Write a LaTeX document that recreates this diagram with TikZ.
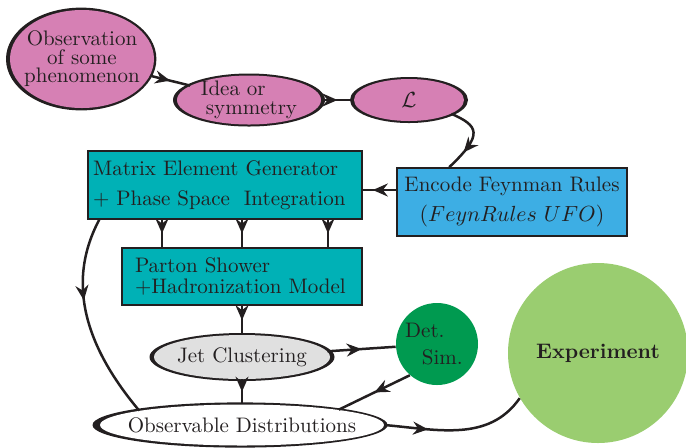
\documentclass[tikz,border=0pt]{standalone}
\usepackage{amsmath}
\usepackage{amssymb}
\usetikzlibrary{shapes.geometric,arrows.meta,decorations.markings}
\pgfdeclarelayer{background}
\pgfsetlayers{background,main}

\definecolor{lagpink}{RGB}{214,128,180}
\definecolor{genteal}{RGB}{0,177,182}
\definecolor{rulesblue}{RGB}{61,174,228}
\definecolor{jetgray}{RGB}{224,224,224}
\definecolor{detgreen}{RGB}{0,154,80}
\definecolor{expgreen}{RGB}{154,205,112}
\definecolor{inkgray}{RGB}{35,31,32}

\tikzset{
  bubble/.style={ellipse, inner sep=0pt, align=center, font=\fontsize{10.5}{9.3}\selectfont},
  tealbox/.style={rectangle, draw=inkgray, line width=0.8pt, fill=genteal, align=left},
  conn/.style={draw=inkgray, line width=1.25pt},
  midarrow/.style={postaction={decorate}, decoration={markings,
      mark=at position #1 with {\arrow{Stealth[length=7.5pt,width=6.5pt,inset=2.5pt]}}}},
  midarrow/.default=0.5,
}

\begin{document}
\begin{tikzpicture}[x=0.5pt, y=-0.5pt, font=\fontsize{10.5}{12.6}\selectfont, text=inkgray]
    \useasboundingbox (0,0) rectangle (686,447);
    % Theory bubbles
    \node[bubble, fill=lagpink, minimum width=72pt, minimum height=49pt, inner xsep=-4pt] (obs) at (82,59) {Observation\\of some\\phenomenon};
    \node[bubble, fill=lagpink, minimum width=72pt, minimum height=24.5pt, inner ysep=-1.5pt, align=left] (idea) at (249,100) {Idea or\\\hspace*{2.5pt}symmetry};
    \node[bubble, fill=lagpink, minimum width=55pt, minimum height=21pt] (lag) at (409,100) {$\mathcal{L}$};
    % Generator boxes
    \node[tealbox, text width=132pt, minimum height=34pt, inner xsep=2.5pt] (meg) at (225,185) {Matrix Element Generator\\[2.4pt]+ Phase Space\ \ Integration};
    \node[rectangle, draw=inkgray, line width=0.8pt, fill=rulesblue, align=center, minimum width=115pt, minimum height=34pt] (encode) at (512,202) {Encode Feynman Rules\\[2pt]$(FeynRules\ UFO)$};
    \node[tealbox, text width=107pt, minimum height=28.5pt, inner xsep=6.5pt] (ps) at (242,276.5) {Parton Shower\\[-2pt]+Hadronization Model};
    % Analysis side
    \node[bubble, fill=jetgray, minimum width=88pt, minimum height=22pt, inner xsep=-1.5pt] (jet) at (242,357) {Jet Clustering};
    \node[bubble, fill=white, minimum width=142pt, minimum height=20.5pt, inner xsep=-8pt] (obsdist) at (242,425) {Observable Distributions};
    \node[circle, fill=detgreen, minimum size=41pt, inner sep=0pt, align=left] (det) at (437,344) {Det.\\[1pt]\hspace*{0.8em}Sim.\kern3pt};
    \node[circle, fill=expgreen, minimum size=90pt, inner sep=0pt, font=\fontsize{10.5}{12.6}\selectfont\bfseries] (exp) at (598,353) {Experiment};
    % Brush outlines of the bubbles
    \begin{pgfonlayer}{background}
        \fill[inkgray] ([xshift=-0.4pt]obs.center) ellipse [x radius=37.6pt, y radius=25.7pt];
        \fill[inkgray] (idea.center) ellipse [x radius=38pt, y radius=13.25pt];
        \fill[inkgray] (lag.center) ellipse [x radius=29.5pt, y radius=11.5pt];
        \fill[inkgray] (jet.center) ellipse [x radius=46.25pt, y radius=12pt];
        \fill[inkgray] ([xshift=-1pt]obsdist.center) ellipse [x radius=73.75pt, y radius=11.3pt];
    \end{pgfonlayer}
    % Theory chain
    \draw[conn, midarrow] (obs) -- (idea);
    \draw[conn, midarrow] (idea) -- (lag);
    \draw[conn, midarrow=0.72] (lag.-18) .. controls +(27,12) and +(35,-33) .. ([xshift=26.5pt]encode.north west);
    \draw[conn, midarrow=0.7] ([yshift=6pt]encode.west) -- ([yshift=-2.5pt]meg.east);
    % Generator to shower
    \foreach \dx in {-40pt,0pt,43pt}
        \draw[conn, midarrow] ([xshift=\dx]ps.north |- meg.south) -- ([xshift=\dx]ps.north);
    \draw[conn, midarrow=0.4] ([xshift=6pt]meg.south west) to[out=-118, in=130] (obsdist.172);
    % Analysis chain
    \draw[conn, midarrow] (ps) -- (jet);
    \draw[conn, midarrow] (jet) -- (det);
    \draw[conn, midarrow] (det.229) -- (obsdist.9);
    \draw[conn, midarrow] (jet) -- (obsdist);
    \draw[conn, midarrow=0.3] (obsdist.east) to[out=-5, in=235] (exp.210);
\end{tikzpicture}
\end{document}
